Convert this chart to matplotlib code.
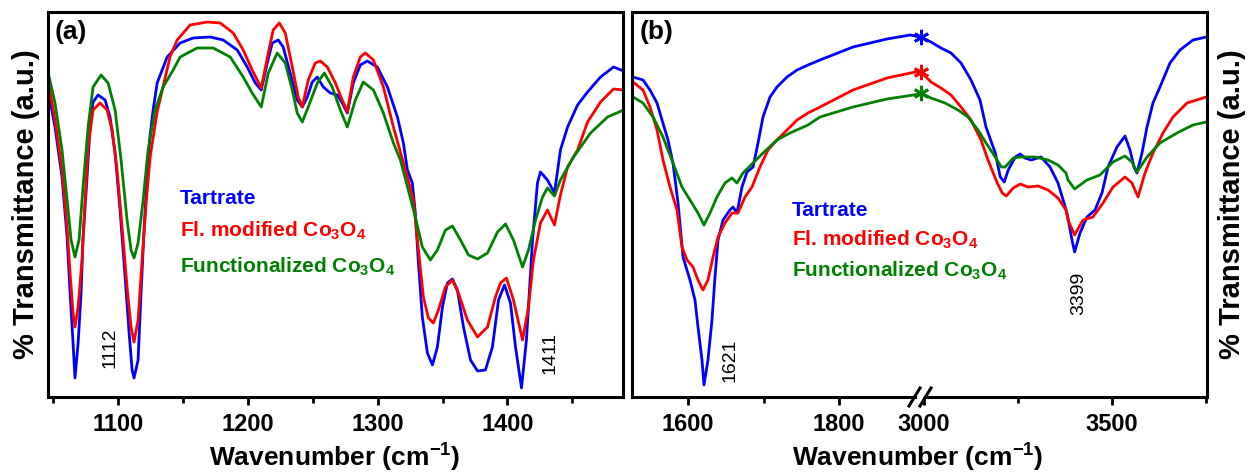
import numpy as np
import matplotlib
matplotlib.use('Agg')
import matplotlib.pyplot as plt
from matplotlib.lines import Line2D
from matplotlib.ticker import FixedLocator

plt.rcParams['font.family'] = ['Liberation Sans', 'DejaVu Sans']
plt.rcParams['mathtext.fontset'] = 'custom'
plt.rcParams['mathtext.rm'] = 'Liberation Sans'
plt.rcParams['mathtext.bf'] = 'Liberation Sans:bold'

# ---- panel (a): 1046-1490 cm-1, transmittance in a.u.
wn_a_tart = [1046, 1051.4, 1056.8, 1060.7, 1063.0, 1065.3, 1066.8, 1069.2, 1071.5, 1073.0,
             1076.1, 1078.4, 1080.7, 1084.6, 1090.0, 1093.8, 1097.7, 1101.5, 1105.4, 1108.5,
             1110.8, 1112.3, 1115.4, 1117.7, 1120.1, 1123.1, 1124.7, 1127.0, 1130.1, 1137.8,
             1147.8, 1157.8, 1170.9, 1181.0, 1191.8, 1199.5, 1205.7, 1210.3, 1214.9, 1218.8,
             1223.4, 1227.2, 1232.6, 1238.0, 1241.9, 1245.8, 1249.6, 1253.5, 1258.1, 1263.5,
             1268.9, 1272.7, 1276.6, 1281.2, 1286.6, 1292.0, 1299.7, 1307.5, 1315.2, 1319.8,
             1322.9, 1326.7, 1329.0, 1331.4, 1334.4, 1338.3, 1342.2, 1346.0, 1349.9, 1353.7,
             1357.6, 1361.4, 1366.1, 1371.5, 1376.9, 1383.0, 1388.4, 1393.1, 1397.7, 1402.3,
             1406.2, 1410.8, 1414.6, 1419.3, 1423.1, 1425.4, 1430.8, 1436.2, 1440.8, 1446.3,
             1454.0, 1461.7, 1471.7, 1481.7, 1489.5]
tartrate_a = [307, 270, 220, 160, 104, 54, 19, 54, 104, 160,
              220, 270, 295, 302, 297, 280, 244, 187, 120, 64,
              27, 19, 37, 104, 170, 237, 262, 287, 314, 340,
              354, 359, 360, 357, 347, 330, 314, 307, 334, 354,
              357, 350, 324, 297, 290, 300, 315, 320, 310, 304,
              302, 294, 284, 314, 332, 336, 330, 310, 280, 254,
              227, 214, 184, 134, 80, 44, 32, 50, 90, 114,
              118, 107, 70, 37, 26, 27, 50, 97, 112, 94,
              50, 9, 57, 157, 214, 225, 217, 204, 247, 270,
              292, 305, 320, 330, 326]

wn_a_mod = [1046, 1051.4, 1056.8, 1060.7, 1063.0, 1065.3, 1066.8, 1069.2, 1072.2, 1074.6,
            1076.9, 1080.7, 1086.1, 1091.5, 1095.4, 1099.2, 1103.1, 1106.9, 1110.0, 1112.3,
            1115.4, 1118.5, 1121.6, 1124.7, 1130.1, 1136.2, 1140.0, 1145.5, 1155.5, 1168.6,
            1178.7, 1188.7, 1196.4, 1203.3, 1210.3, 1215.7, 1219.5, 1224.2, 1228.8, 1234.2,
            1238.8, 1241.9, 1246.5, 1251.9, 1255.8, 1261.2, 1267.4, 1272.7, 1276.6, 1281.2,
            1286.6, 1290.5, 1296.7, 1304.4, 1312.1, 1319.8, 1322.9, 1327.5, 1331.4, 1335.2,
            1339.1, 1342.9, 1346.8, 1352.2, 1357.6, 1362.2, 1369.1, 1376.9, 1384.6, 1390.7,
            1394.6, 1399.2, 1404.6, 1411.6, 1416.2, 1420.0, 1425.4, 1430.8, 1436.2, 1440.8,
            1446.3, 1454.0, 1461.7, 1471.7, 1481.7, 1489.5]
modified_a = [317, 277, 227, 170, 124, 84, 70, 90, 137, 197,
              250, 287, 294, 287, 267, 227, 170, 110, 70, 55,
              77, 137, 194, 240, 285, 319, 340, 357, 372, 375,
              374, 364, 347, 327, 309, 344, 367, 374, 364, 330,
              300, 290, 317, 334, 336, 330, 314, 297, 285, 320,
              340, 344, 337, 310, 270, 234, 220, 197, 147, 100,
              79, 74, 87, 110, 117, 104, 77, 60, 70, 100,
              114, 119, 97, 57, 90, 137, 174, 187, 172, 202,
              230, 247, 275, 295, 308, 307]

wn_a_fun = [1046, 1051.4, 1056.8, 1060.7, 1063.8, 1066.8, 1069.9, 1073.0, 1076.9, 1080.7,
            1086.9, 1092.3, 1097.7, 1102.3, 1106.9, 1110.0, 1112.3, 1115.4, 1119.3, 1123.1,
            1128.5, 1134.7, 1142.4, 1147.8, 1160.9, 1173.3, 1186.4, 1196.4, 1203.3, 1210.3,
            1215.7, 1222.6, 1228.8, 1234.2, 1238.0, 1241.9, 1246.5, 1253.5, 1258.9, 1265.0,
            1271.2, 1276.6, 1282.8, 1288.9, 1296.7, 1304.4, 1312.1, 1317.5, 1323.6, 1329.0,
            1334.4, 1340.6, 1346.0, 1352.2, 1357.6, 1363.8, 1369.9, 1376.9, 1384.6, 1392.3,
            1398.5, 1404.6, 1411.6, 1416.2, 1421.6, 1427.0, 1430.8, 1436.2, 1440.8, 1450.9,
            1464.0, 1477.1, 1489.5]
functional_a = [325, 294, 247, 197, 157, 140, 157, 210, 270, 310,
                322, 314, 287, 237, 177, 147, 139, 154, 197, 247,
                287, 310, 327, 340, 349, 349, 340, 320, 304, 290,
                324, 344, 334, 307, 284, 275, 290, 314, 324, 310,
                287, 270, 297, 315, 307, 284, 254, 237, 207, 180,
                150, 137, 147, 167, 171, 157, 142, 138, 144, 165,
                173, 157, 130, 147, 177, 200, 209, 201, 217, 240,
                264, 280, 287]

# ---- panel (b), low range 1526-1907 cm-1
wn_b_tart = [1527.3, 1540.6, 1549.8, 1559.1, 1565.7, 1573.6, 1580.2, 1586.9, 1593.5, 1602.7,
             1609.3, 1613.3, 1618.6, 1621.2, 1626.5, 1631.8, 1635.8, 1639.8, 1646.4, 1655.6,
             1659.6, 1664.9, 1671.5, 1678.1, 1686.1, 1692.7, 1699.3, 1708.6, 1717.8, 1731.1,
             1744.3, 1758.8, 1774.7, 1818.4, 1863.3, 1893.8, 1907.0]
tartrate_b = [320, 317, 307, 294, 277, 257, 234, 194, 140, 117,
              97, 70, 37, 12, 37, 77, 120, 157, 177, 187,
              190, 184, 210, 225, 230, 254, 280, 300, 310, 320,
              327, 332, 337, 350, 358, 362, 360]
wn_b_mod = [1527.3, 1540.6, 1549.8, 1559.1, 1567.0, 1576.3, 1585.5, 1592.1, 1598.8, 1606.7,
            1613.3, 1619.9, 1626.5, 1633.2, 1639.8, 1649.0, 1658.3, 1666.2, 1675.5, 1684.7,
            1695.3, 1705.9, 1717.8, 1731.1, 1744.3, 1758.8, 1774.7, 1818.4, 1863.3, 1907.0]
modified_b = [315, 307, 290, 267, 237, 210, 187, 150, 137, 130,
              117, 107, 117, 140, 160, 174, 184, 184, 200, 210,
              230, 247, 257, 267, 277, 284, 290, 307, 319, 326]
wn_b_fun = [1527.3, 1540.6, 1553.8, 1567.0, 1580.2, 1592.1, 1602.7, 1613.3, 1621.2, 1629.2,
            1638.4, 1649.0, 1658.3, 1664.9, 1672.8, 1686.1, 1699.3, 1717.8, 1735.0, 1758.8,
            1774.7, 1818.4, 1863.3, 1907.0]
functional_b = [300, 294, 280, 260, 234, 210, 197, 184, 172, 184,
                200, 214, 219, 214, 224, 234, 244, 257, 264, 272,
                280, 290, 298, 303]

# ---- panel (b), high range 2989-3752 cm-1
wn_c_tart = [2991.7, 3018.2, 3044.8, 3071.4, 3098.0, 3124.6, 3148.5, 3164.5, 3189.1, 3202.4,
             3213.0, 3223.6, 3242.2, 3255.5, 3268.1, 3284.1, 3310.7, 3334.6, 3355.9, 3379.8,
             3393.1, 3400.0, 3414.4, 3433.0, 3454.2, 3472.8, 3488.8, 3512.7, 3534.0, 3547.3,
             3557.9, 3565.9, 3579.2, 3592.5, 3608.4, 3627.0, 3653.6, 3680.2, 3714.8, 3750.0]
tartrate_c = [360, 355, 349, 344, 334, 317, 297, 270, 244, 220,
              215, 227, 240, 243, 239, 237, 240, 230, 214, 184,
              157, 145, 164, 180, 187, 204, 230, 250, 261, 247,
              230, 224, 244, 270, 294, 310, 334, 347, 357, 360]
wn_c_mod = [2991.7, 3018.2, 3044.8, 3071.4, 3098.0, 3124.6, 3151.2, 3169.8, 3194.4, 3207.7,
            3218.3, 3236.9, 3255.5, 3276.1, 3302.7, 3329.3, 3355.9, 3377.1, 3382.5, 3400.0,
            3422.3, 3448.9, 3475.5, 3502.1, 3534.0, 3552.6, 3568.6, 3587.2, 3608.4, 3635.0,
            3661.6, 3698.8, 3750.0]
modified_c = [325, 315, 309, 302, 290, 277, 257, 237, 214, 204,
              201, 209, 213, 210, 211, 207, 199, 187, 177, 162,
              177, 180, 194, 210, 220, 214, 200, 224, 244, 264,
              280, 294, 300]
wn_c_fun = [2991.7, 3018.2, 3055.5, 3090.0, 3116.6, 3143.2, 3164.5, 3189.1, 3205.0, 3215.7,
            3236.9, 3257.5, 3294.7, 3329.3, 3355.9, 3377.1, 3382.5, 3400.0, 3433.0, 3467.5,
            3502.1, 3534.0, 3552.6, 3565.9, 3592.5, 3627.0, 3672.2, 3714.8, 3750.0]
functional_c = [304, 299, 294, 287, 280, 267, 254, 240, 230, 230,
                239, 240, 240, 237, 232, 224, 217, 208, 217, 222,
                235, 241, 235, 225, 240, 254, 264, 272, 275]

names = ['Tartrate', 'Fl. modified Co$_\\mathbf{3}$O$_\\mathbf{4}$',
         'Functionalized Co$_\\mathbf{3}$O$_\\mathbf{4}$']
colors = ['#0000ff', '#ff0000', '#008000']

W, H = 1248, 474
fig = plt.figure(figsize=(W / 100, H / 100), dpi=100)
ax_a = fig.add_axes([48 / W, 77 / H, 575 / W, 385 / H])
ax_b1 = fig.add_axes([632 / W, 77 / H, 288 / W, 385 / H])
ax_b2 = fig.add_axes([920 / W, 77 / H, 287 / W, 385 / H])

lw = 2.0
for x, y, c in zip([wn_a_tart, wn_a_mod, wn_a_fun], [tartrate_a, modified_a, functional_a], colors):
    ax_a.plot(x, y, color=c, lw=lw, solid_joinstyle='round')
for x, y, c in zip([wn_b_tart, wn_b_mod, wn_b_fun], [tartrate_b, modified_b, functional_b], colors):
    ax_b1.plot(x, y, color=c, lw=lw, solid_joinstyle='round')
for x, y, c in zip([wn_c_tart, wn_c_mod, wn_c_fun], [tartrate_c, modified_c, functional_c], colors):
    ax_b2.plot(x, y, color=c, lw=lw, solid_joinstyle='round')
    ax_b2.plot(x[0], y[0], marker=(6, 2, 0), ms=11, mew=2, color=c, clip_on=False)

ax_a.set_xlim(1046, 1489)
ax_b1.set_xlim(1526, 1907)
ax_b2.set_xlim(2989, 3752)
ax_a.xaxis.set_major_locator(FixedLocator([1100, 1200, 1300, 1400]))
ax_a.xaxis.set_minor_locator(FixedLocator([1050, 1150, 1250, 1350, 1450]))
ax_b1.xaxis.set_major_locator(FixedLocator([1600, 1800]))
ax_b1.xaxis.set_minor_locator(FixedLocator([1700]))
ax_b2.xaxis.set_major_locator(FixedLocator([3000, 3500]))
ax_b2.xaxis.set_minor_locator(FixedLocator([3250, 3750]))

for ax in (ax_a, ax_b1, ax_b2):
    ax.set_ylim(0, 385)
    ax.patch.set_visible(False)
    ax.set_yticks([])
    for s in ax.spines.values():
        s.set_linewidth(2.2)
    ax.tick_params(axis='x', which='major', direction='out', length=5.5, width=2,
                   labelsize=17, pad=6)
    ax.tick_params(axis='x', which='minor', direction='out', length=4.5, width=2)
    for lab in ax.get_xticklabels():
        lab.set_fontweight('bold')

ax_b1.spines['right'].set_visible(False)
ax_b2.spines['left'].set_visible(False)
ax_b1.spines['bottom'].set_bounds(1526, 1900)
ax_b2.spines['bottom'].set_bounds(3002, 3752)

# break marks on the bottom axis of panel (b)
for x0 in (909, 920):
    fig.add_artist(Line2D([x0 / W, (x0 + 11) / W], [(H - 406) / H, (H - 388) / H],
                          color='black', lw=2.2))

ax_a.set_ylabel('% Transmittance (a.u.)', fontsize=21, fontweight='bold', labelpad=6)
ax_b2.yaxis.set_label_position('right')
ax_b2.set_ylabel('% Transmittance (a.u.)', fontsize=21, fontweight='bold', labelpad=8,
                 rotation=90)

xl = 'Wavenumber (cm$^{\\mathbf{-1}}$)'
fig.text(335 / W, (H - 457) / H, xl, fontsize=19, fontweight='bold', ha='center', va='center')
fig.text(918 / W, (H - 457) / H, xl, fontsize=19, fontweight='bold', ha='center', va='center')

fig.text(55 / W, (H - 32) / H, '(a)', fontsize=19, fontweight='bold', va='center')
fig.text(640 / W, (H - 32) / H, '(b)', fontsize=19, fontweight='bold', va='center')

for i, (name, c) in enumerate(zip(names, colors)):
    fig.text(180 / W, (H - [198, 231, 267][i]) / H, name, color=c, fontsize=15,
             fontweight='bold', va='center')
    fig.text(792 / W, (H - [210, 240, 271][i]) / H, name, color=c, fontsize=15,
             fontweight='bold', va='center')

ax_a.text(1094, 49, '1112', rotation=90, fontsize=14, ha='center', va='center')
ax_a.text(1433, 44, '1411', rotation=90, fontsize=14, ha='center', va='center')
ax_b1.text(1656, 37, '1621', rotation=90, fontsize=14, ha='center', va='center')
ax_b2.text(3410, 104, '3399', rotation=90, fontsize=14, ha='center', va='center')

fig.savefig('out.png', dpi=100)
